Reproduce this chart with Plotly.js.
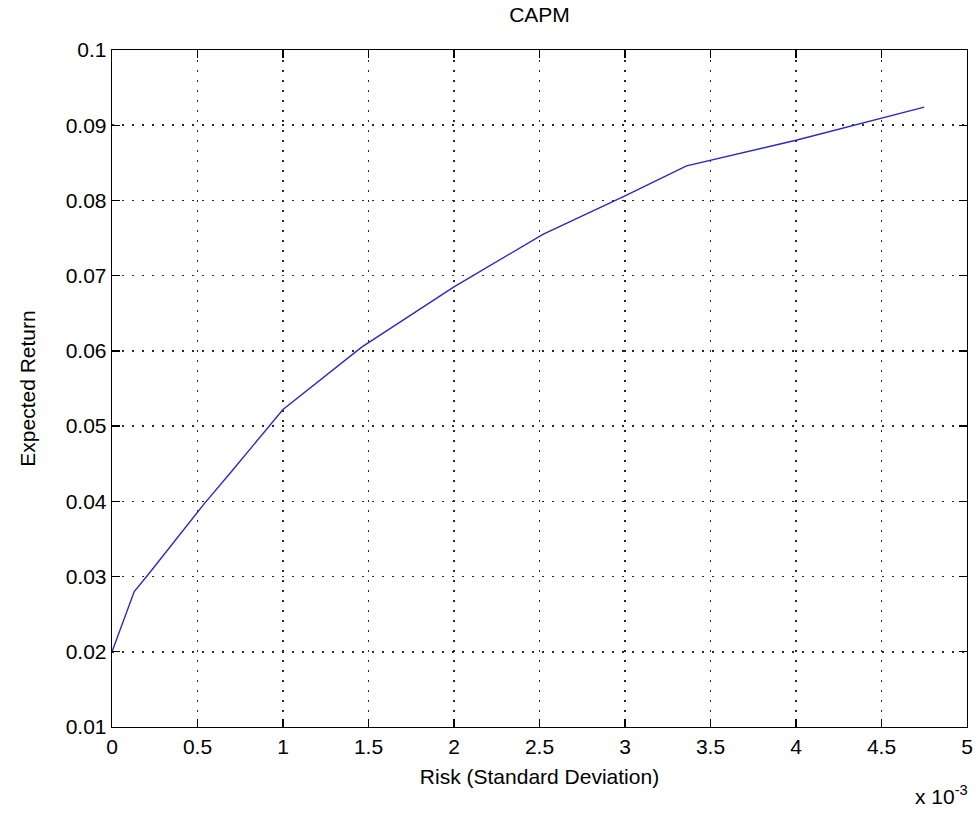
<!DOCTYPE html>
<html>
<head>
<meta charset="utf-8">
<script src="https://cdn.plot.ly/plotly-3.0.1.min.js"></script>
<style>
  html, body { margin: 0; padding: 0; background: #ffffff; }
  #chart { width: 980px; height: 814px; }
</style>
</head>
<body>
<div id="chart"></div>
<script>
// Data (risk in absolute units, shown as x 10^-3)
var risk = [0, 0.00013, 0.00022, 0.00054, 0.00070, 0.00100, 0.00146, 0.00200, 0.00252, 0.00300, 0.00336, 0.00400, 0.00475];
var expectedReturn = [0.0200, 0.0280, 0.0305, 0.0397, 0.0440, 0.0522, 0.0605, 0.0685, 0.0755, 0.0806, 0.0846, 0.0880, 0.0924];

var xTickVals = [0, 0.0005, 0.0010, 0.0015, 0.0020, 0.0025, 0.0030, 0.0035, 0.0040, 0.0045, 0.0050];
var xTickText = ['0', '0.5', '1', '1.5', '2', '2.5', '3', '3.5', '4', '4.5', '5'];
var yTickVals = [0.01, 0.02, 0.03, 0.04, 0.05, 0.06, 0.07, 0.08, 0.09, 0.10];
var yTickText = ['0.01', '0.02', '0.03', '0.04', '0.05', '0.06', '0.07', '0.08', '0.09', '0.1'];

var FONT = 'Liberation Sans, Arial, sans-serif';

var trace = {
  x: risk,
  y: expectedReturn,
  type: 'scatter',
  mode: 'lines',
  line: { color: '#2a2ac0', width: 1.4 },
  hoverinfo: 'x+y'
};

var axisCommon = {
  showline: true,
  linecolor: '#000000',
  linewidth: 1.3,
  mirror: 'ticks',
  ticks: 'inside',
  ticklen: 8,
  tickwidth: 1.3,
  tickcolor: '#000000',
  showgrid: true,
  gridcolor: '#2a2a2a',
  gridwidth: 1.5,
  griddash: '1.5px,8.5px',
  zeroline: false,
  tickfont: { family: FONT, size: 21, color: '#000000' },
  tickmode: 'array'
};

var layout = {
  width: 980,
  height: 814,
  paper_bgcolor: '#ffffff',
  plot_bgcolor: '#ffffff',
  margin: { l: 112, r: 13, t: 50, b: 87 },
  showlegend: false,
  title: {
    text: 'CAPM',
    font: { family: FONT, size: 21, color: '#000000' },
    x: 0.5, xref: 'paper', xanchor: 'center',
    y: 1, yref: 'container', yanchor: 'top', pad: { t: 7 }
  },
  xaxis: Object.assign({}, axisCommon, {
    range: [0, 0.005],
    tickvals: xTickVals,
    ticktext: xTickText,
    title: { text: 'Risk (Standard Deviation)', font: { family: FONT, size: 21, color: '#000000' }, standoff: 12 }
  }),
  yaxis: Object.assign({}, axisCommon, {
    range: [0.01, 0.1],
    tickvals: yTickVals,
    ticktext: yTickText,
    title: { text: 'Expected Return', font: { family: FONT, size: 21, color: '#000000' }, standoff: 24 }
  }),
  annotations: [{
    text: 'x 10<sup>-3</sup>',
    xref: 'paper', yref: 'paper',
    x: 1.003, y: -0.1,
    xanchor: 'right', yanchor: 'middle',
    showarrow: false,
    font: { family: FONT, size: 21, color: '#000000' }
  }]
};

Plotly.newPlot('chart', [trace], layout, { displayModeBar: false, staticPlot: true });
</script>
</body>
</html>
